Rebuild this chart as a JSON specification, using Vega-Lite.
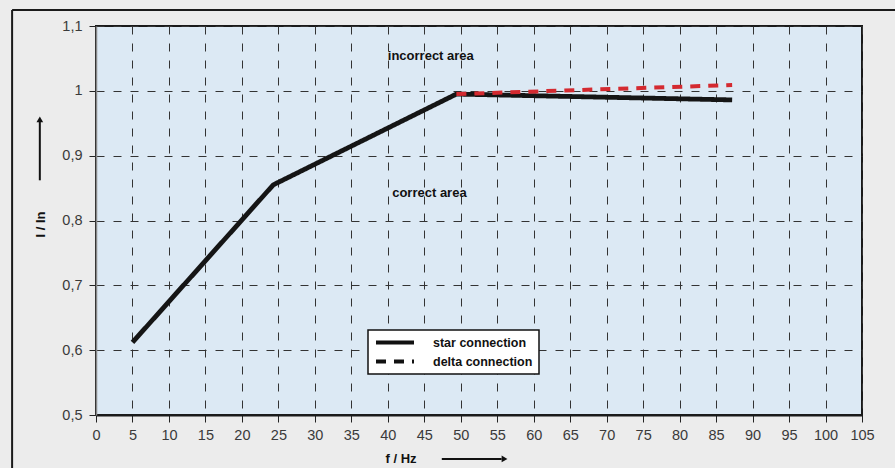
{
  "$schema": "https://vega.github.io/schema/vega-lite/v6.json",
  "width": 766,
  "height": 389,
  "autosize": {"type": "none"},
  "padding": {"left": 96, "top": 26, "right": 33, "bottom": 53},
  "background": "#ececec",
  "config": {
    "view": {"fill": "#dce9f4", "stroke": "#1a1a1a", "strokeWidth": 2},
    "font": "Liberation Sans",
    "axis": {
      "labelOverlap": false, "labelFlush": false,
      "labelFontSize": 14.5, "labelColor": "#3a3a3a",
      "tickSize": 7, "tickColor": "#222",
      "grid": true, "gridDash": [8, 9], "gridColor": "#333", "gridWidth": 1,
      "titleFontSize": 13, "titleFontWeight": "bold", "titleColor": "#111"
    },
    "axisX": {
      "tickCount": 21, "labelPadding": 6,
      "domainColor": "#1a1a1a", "domainWidth": 2,
      "titleX": 289, "titleY": 47, "titleAlign": "left", "titleBaseline": "alphabetic"
    },
    "axisY": {
      "tickCount": 6, "labelPadding": 7,
      "labelExpr": "replace(format(datum.value, '.1~f'), '.', ',')",
      "domainColor": "#888", "domainWidth": 1.5,
      "titleAngle": -90, "titleX": -56, "titleY": 211, "titleAlign": "left", "titleBaseline": "middle"
    }
  },
  "datasets": {
    "curves": [
      {"series": "star connection", "f": 5, "ratio": 0.612},
      {"series": "star connection", "f": 24.3, "ratio": 0.855},
      {"series": "star connection", "f": 49.4, "ratio": 0.995},
      {"series": "star connection", "f": 87.2, "ratio": 0.986},
      {"series": "delta connection", "f": 49.4, "ratio": 0.995},
      {"series": "delta connection", "f": 87.2, "ratio": 1.009}
    ],
    "notes": [
      {"label": "incorrect area", "f": 40.0, "ratio": 1.054},
      {"label": "correct area", "f": 40.6, "ratio": 0.843}
    ],
    "one": [{}]
  },
  "layer": [
    {
      "data": {"name": "curves"},
      "transform": [{"filter": "datum.series === 'star connection'"}],
      "mark": {"type": "line", "color": "#151515", "strokeWidth": 4.8, "strokeJoin": "round"},
      "encoding": {
        "x": {
          "field": "f", "type": "quantitative",
          "scale": {"domain": [0, 105], "nice": false, "zero": false},
          "axis": {"title": "f / Hz"}
        },
        "y": {
          "field": "ratio", "type": "quantitative",
          "scale": {"domain": [0.5, 1.1], "nice": false, "zero": false},
          "axis": {"title": "I / In"}
        },
        "strokeDash": {
          "field": "series", "type": "nominal",
          "scale": {"domain": ["star connection", "delta connection"], "range": [[1, 0], [10, 8]]},
          "legend": {
            "orient": "none", "legendX": 272, "legendY": 304, "title": null,
            "fillColor": "white", "strokeColor": "#111", "padding": 6,
            "symbolType": "stroke", "symbolSize": 1444, "symbolStrokeWidth": 4, "symbolStrokeColor": "#111",
            "clipHeight": 13,
            "labelFontSize": 12.5, "labelFontWeight": "bold", "labelColor": "#111", "labelOffset": 17,
            "rowPadding": 6,
            "encode": {
              "symbols": {"update": {"stroke": {"value": "#111"}}},
              "legend": {"update": {"strokeWidth": {"value": 1.5}}}
            }
          }
        }
      }
    },
    {
      "data": {"name": "curves"},
      "transform": [{"filter": "datum.series === 'delta connection'"}],
      "mark": {"type": "line", "color": "#d42a30", "strokeWidth": 4},
      "encoding": {
        "x": {"field": "f", "type": "quantitative"},
        "y": {"field": "ratio", "type": "quantitative"},
        "strokeDash": {"field": "series", "type": "nominal"}
      }
    },
    {
      "data": {"name": "notes"},
      "mark": {"type": "text", "align": "left", "baseline": "middle", "fontSize": 13, "fontWeight": "bold", "color": "#111"},
      "encoding": {
        "x": {"field": "f", "type": "quantitative"},
        "y": {"field": "ratio", "type": "quantitative"},
        "text": {"field": "label"}
      }
    },
    {
      "data": {"name": "one"},
      "mark": {"type": "rule", "color": "#1a1a1a", "strokeWidth": 2, "clip": false},
      "encoding": {"x": {"datum": -11.5}, "x2": {"datum": 111}, "y": {"datum": 1.1246}}
    },
    {
      "data": {"name": "one"},
      "mark": {"type": "rule", "color": "#1a1a1a", "strokeWidth": 2, "clip": false},
      "encoding": {"x": {"datum": -11.5}, "y": {"datum": 1.1246}, "y2": {"datum": 0.4}}
    },
    {
      "data": {"name": "one"},
      "mark": {"type": "rule", "color": "#111", "strokeWidth": 2, "clip": false},
      "encoding": {"x": {"datum": -7.7}, "y": {"datum": 0.862}, "y2": {"datum": 0.953}}
    },
    {
      "data": {"name": "one"},
      "mark": {"type": "point", "shape": "triangle-up", "filled": true, "color": "#111", "size": 45, "opacity": 1, "clip": false},
      "encoding": {"x": {"datum": -7.7}, "y": {"datum": 0.956}}
    },
    {
      "data": {"name": "one"},
      "mark": {"type": "rule", "color": "#111", "strokeWidth": 2, "clip": false},
      "encoding": {"x": {"datum": 47.4}, "x2": {"datum": 55.6}, "y": {"datum": 0.4323}}
    },
    {
      "data": {"name": "one"},
      "mark": {"type": "point", "shape": "triangle-right", "filled": true, "color": "#111", "size": 45, "opacity": 1, "clip": false},
      "encoding": {"x": {"datum": 56.0}, "y": {"datum": 0.4323}}
    }
  ]
}
